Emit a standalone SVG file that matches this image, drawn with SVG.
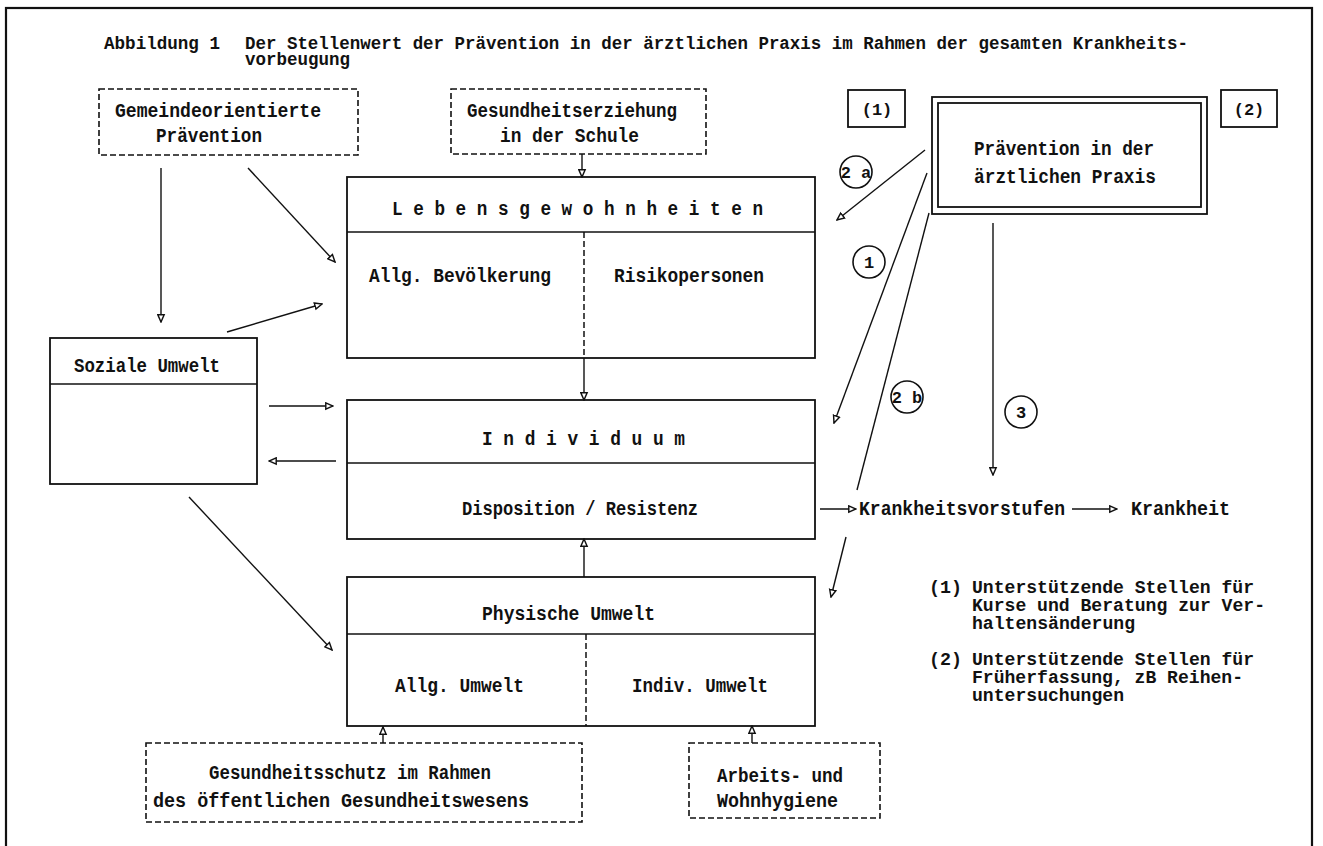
<svg xmlns="http://www.w3.org/2000/svg" width="1323" height="846" viewBox="0 0 1323 846">
<defs>
<style>
.t{font-family:"Liberation Mono","DejaVu Sans Mono",monospace;font-size:20px;font-weight:bold;fill:#111}
.s{font-family:"Liberation Mono","DejaVu Sans Mono",monospace;font-size:18px;font-weight:bold;fill:#111}
.c{font-family:"Liberation Mono","DejaVu Sans Mono",monospace;font-size:17px;font-weight:bold;fill:#111;text-anchor:middle}
.box{fill:none;stroke:#111;stroke-width:1.8}
.dbox{fill:none;stroke:#111;stroke-width:1.6;stroke-dasharray:6 3}
.div{fill:none;stroke:#111;stroke-width:1.6}
.ddiv{fill:none;stroke:#111;stroke-width:1.5;stroke-dasharray:6 3}
.ln{fill:none;stroke:#111;stroke-width:1.4}
.ar{fill:none;stroke:#111;stroke-width:1.4;marker-end:url(#ah)}
.circ{fill:#fff;stroke:#111;stroke-width:1.6}
</style>
<marker id="ah" viewBox="0 0 10 10" refX="9" refY="5" markerWidth="9" markerHeight="9" markerUnits="userSpaceOnUse" orient="auto">
<path d="M1,1.5 L9,5 L1,8.5 z" fill="#fff" stroke="#111" stroke-width="1.6"/>
</marker>
</defs>
<rect width="1323" height="846" fill="#fff"/>
<rect x="6" y="8" width="1306" height="900" fill="none" stroke="#111" stroke-width="2.2"/>

<g id="title">
<text class="s" x="104" y="49" textLength="116" lengthAdjust="spacingAndGlyphs">Abbildung 1</text>
<text class="s" x="245" y="49" textLength="943" lengthAdjust="spacingAndGlyphs">Der Stellenwert der Prävention in der ärztlichen Praxis im Rahmen der gesamten Krankheits-</text>
<text class="s" x="245" y="65" textLength="105" lengthAdjust="spacingAndGlyphs">vorbeugung</text>
</g>

<g id="gemeinde">
<rect class="dbox" x="99" y="89" width="259" height="66"/>
<text class="t" x="115" y="117" textLength="206" lengthAdjust="spacingAndGlyphs">Gemeindeorientierte</text>
<text class="t" x="156" y="142" textLength="106" lengthAdjust="spacingAndGlyphs">Prävention</text>
</g>

<g id="schule">
<rect class="dbox" x="451" y="89" width="255" height="65"/>
<text class="t" x="467" y="117" textLength="210" lengthAdjust="spacingAndGlyphs">Gesundheitserziehung</text>
<text class="t" x="500" y="142" textLength="139" lengthAdjust="spacingAndGlyphs">in der Schule</text>
</g>

<g id="label1">
<rect class="box" x="848" y="90" width="57" height="37"/>
<text class="c" x="877" y="115">(1)</text>
</g>

<g id="label2">
<rect class="box" x="1221" y="90" width="56" height="37"/>
<text class="c" x="1249" y="115">(2)</text>
</g>

<g id="praxis">
<rect class="box" x="932" y="97" width="275" height="117"/>
<rect class="box" x="938" y="103" width="263" height="104"/>
<text class="t" x="974" y="155" textLength="180" lengthAdjust="spacingAndGlyphs">Prävention in der</text>
<text class="t" x="974" y="183" textLength="182" lengthAdjust="spacingAndGlyphs">ärztlichen Praxis</text>
</g>

<g id="lebensgewohnheiten">
<rect class="box" x="347" y="177" width="468" height="181"/>
<line class="div" x1="347" y1="232" x2="815" y2="232"/>
<line class="ddiv" x1="584" y1="232" x2="584" y2="358"/>
<text class="t" x="392" y="215" textLength="371" lengthAdjust="spacingAndGlyphs">L e b e n s g e w o h n h e i t e n</text>
<text class="t" x="369" y="282" textLength="182" lengthAdjust="spacingAndGlyphs">Allg. Bevölkerung</text>
<text class="t" x="614" y="282" textLength="150" lengthAdjust="spacingAndGlyphs">Risikopersonen</text>
</g>

<g id="soziale">
<rect class="box" x="50" y="338" width="207" height="146"/>
<line class="div" x1="50" y1="384" x2="257" y2="384"/>
<text class="t" x="74" y="372" textLength="146" lengthAdjust="spacingAndGlyphs">Soziale Umwelt</text>
</g>

<g id="individuum">
<rect class="box" x="347" y="400" width="468" height="139"/>
<line class="div" x1="347" y1="463" x2="815" y2="463"/>
<text class="t" x="482" y="445" textLength="203" lengthAdjust="spacingAndGlyphs">I n d i v i d u u m</text>
<text class="t" x="462" y="515" textLength="236" lengthAdjust="spacingAndGlyphs">Disposition / Resistenz</text>
</g>

<g id="physische">
<rect class="box" x="347" y="577" width="468" height="149"/>
<line class="div" x1="347" y1="634" x2="815" y2="634"/>
<line class="ddiv" x1="586" y1="634" x2="586" y2="726"/>
<text class="t" x="482" y="620" textLength="173" lengthAdjust="spacingAndGlyphs">Physische Umwelt</text>
<text class="t" x="395" y="692" textLength="129" lengthAdjust="spacingAndGlyphs">Allg. Umwelt</text>
<text class="t" x="632" y="692" textLength="136" lengthAdjust="spacingAndGlyphs">Indiv. Umwelt</text>
</g>

<g id="gesundheitsschutz">
<rect class="dbox" x="146" y="743" width="436" height="79"/>
<text class="t" x="209" y="779" textLength="282" lengthAdjust="spacingAndGlyphs">Gesundheitsschutz im Rahmen</text>
<text class="t" x="153" y="807" textLength="376" lengthAdjust="spacingAndGlyphs">des öffentlichen Gesundheitswesens</text>
</g>

<g id="hygiene">
<rect class="dbox" x="689" y="743" width="191" height="75"/>
<text class="t" x="717" y="782" textLength="126" lengthAdjust="spacingAndGlyphs">Arbeits- und</text>
<text class="t" x="717" y="807" textLength="121" lengthAdjust="spacingAndGlyphs">Wohnhygiene</text>
</g>

<g id="krankheitsvorstufen">
<text class="t" x="859" y="515" textLength="206" lengthAdjust="spacingAndGlyphs">Krankheitsvorstufen</text>
</g>
<g id="krankheit">
<text class="t" x="1131" y="515" textLength="99" lengthAdjust="spacingAndGlyphs">Krankheit</text>
</g>

<g id="legend">
<text class="s" x="929" y="593" textLength="33" lengthAdjust="spacingAndGlyphs">(1)</text>
<text class="s" x="972" y="593" textLength="282" lengthAdjust="spacingAndGlyphs">Unterstützende Stellen für</text>
<text class="s" x="972" y="611" textLength="293" lengthAdjust="spacingAndGlyphs">Kurse und Beratung zur Ver-</text>
<text class="s" x="972" y="629" textLength="163" lengthAdjust="spacingAndGlyphs">haltensänderung</text>
<text class="s" x="929" y="665" textLength="33" lengthAdjust="spacingAndGlyphs">(2)</text>
<text class="s" x="972" y="665" textLength="282" lengthAdjust="spacingAndGlyphs">Unterstützende Stellen für</text>
<text class="s" x="972" y="683" textLength="271" lengthAdjust="spacingAndGlyphs">Früherfassung, zB Reihen-</text>
<text class="s" x="972" y="701" textLength="152" lengthAdjust="spacingAndGlyphs">untersuchungen</text>
</g>

<g id="connectors">
<line class="ar" x1="582" y1="154" x2="582" y2="177"/>
<line class="ar" x1="161" y1="168" x2="161" y2="322"/>
<line class="ar" x1="248" y1="168" x2="335" y2="262"/>
<line class="ar" x1="227" y1="332" x2="322" y2="304"/>
<line class="ar" x1="269" y1="406" x2="333" y2="406"/>
<line class="ar" x1="336" y1="461" x2="269" y2="461"/>
<line class="ar" x1="189" y1="497" x2="332" y2="650"/>
<line class="ar" x1="584" y1="358" x2="584" y2="400"/>
<line class="ar" x1="584" y1="577" x2="584" y2="539"/>
<line class="ar" x1="383" y1="743" x2="383" y2="727"/>
<line class="ar" x1="752" y1="743" x2="752" y2="726"/>
<line class="ar" x1="925" y1="150" x2="837" y2="220"/>
<line class="ar" x1="927" y1="173" x2="834" y2="423"/>
<line class="ln" x1="929" y1="213" x2="857" y2="490"/>
<line class="ar" x1="846" y1="537" x2="831" y2="597"/>
<line class="ar" x1="993" y1="223" x2="993" y2="475"/>
<line class="ar" x1="820" y1="509" x2="856" y2="509"/>
<line class="ar" x1="1072" y1="509" x2="1117" y2="509"/>
</g>

<g id="markers">
<circle class="circ" cx="856" cy="172" r="16"/>
<text class="c" x="856" y="178">2 a</text>
<circle class="circ" cx="869" cy="262" r="16"/>
<text class="c" x="869" y="268">1</text>
<circle class="circ" cx="907" cy="397" r="16"/>
<text class="c" x="907" y="403">2 b</text>
<circle class="circ" cx="1021" cy="412" r="16"/>
<text class="c" x="1021" y="418">3</text>
</g>
</svg>
